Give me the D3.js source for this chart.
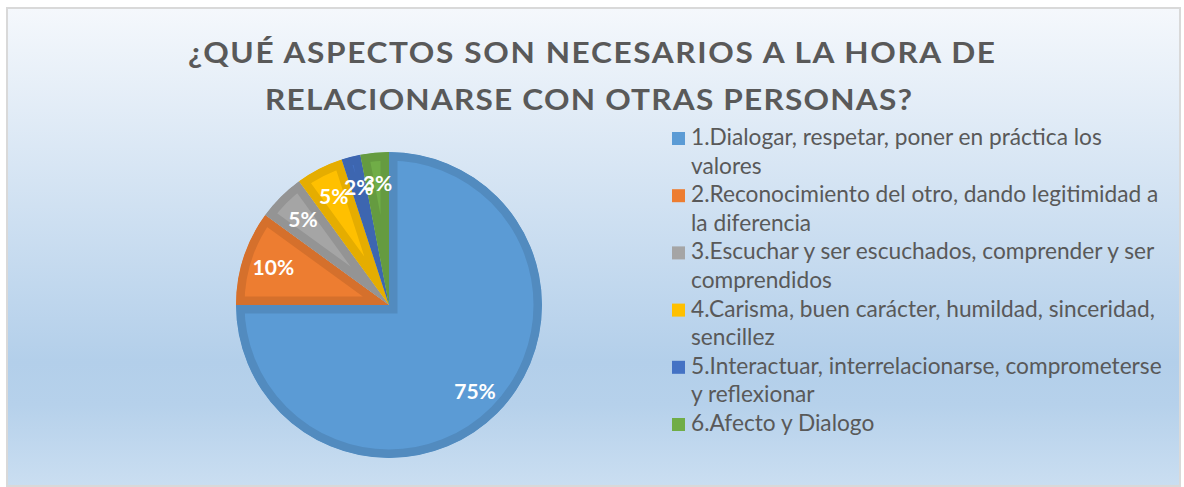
<!DOCTYPE html>
<html>
<head>
<meta charset="utf-8">
<script src="https://cdn.jsdelivr.net/npm/d3@7"></script>
<style>
    html, body { margin: 0; padding: 0; background: #ffffff; }
    svg { display: block; }
</style>
</head>
<body>
<svg id="chart" width="1184" height="487"></svg>
<script>
var title_lines = ["¿QUÉ ASPECTOS SON NECESARIOS A LA HORA DE", "RELACIONARSE CON OTRAS PERSONAS?"];
var categories = [
    "1.Dialogar, respetar, poner en práctica los valores",
    "2.Reconocimiento del otro, dando legitimidad a la diferencia",
    "3.Escuchar y ser escuchados, comprender y ser comprendidos",
    "4.Carisma, buen carácter, humildad, sinceridad, sencillez",
    "5.Interactuar, interrelacionarse, comprometerse y reflexionar",
    "6.Afecto y Dialogo"
];
// legend text as wrapped in the picture
var legend_lines = [
    ["1.Dialogar, respetar, poner en práctica los", "valores"],
    ["2.Reconocimiento del otro, dando legitimidad a", "la diferencia"],
    ["3.Escuchar y ser escuchados, comprender y ser", "comprendidos"],
    ["4.Carisma, buen carácter, humildad, sinceridad,", "sencillez"],
    ["5.Interactuar, interrelacionarse, comprometerse", "y reflexionar"],
    ["6.Afecto y Dialogo"]
];
var values = [75, 10, 5, 5, 2, 3];
var colors = ["#5b9bd5", "#ed7d31", "#a5a5a5", "#ffc000", "#4472c4", "#70ad47"];

var svg = d3.select("#chart");
var font = "Lato, 'Open Sans', sans-serif";
var text_color = "#595959";

// background gradient of the chart area
var defs = svg.append("defs");
var grad = defs.append("linearGradient")
    .attr("id", "bg_grad")
    .attr("x1", 0).attr("y1", 0)
    .attr("x2", 0).attr("y2", 1);
grad.append("stop").attr("offset", "0%").attr("stop-color", "#f5f8fc");
grad.append("stop").attr("offset", "74%").attr("stop-color", "#b3cfea");
grad.append("stop").attr("offset", "83%").attr("stop-color", "#b6d1eb");
grad.append("stop").attr("offset", "100%").attr("stop-color", "#cadef1");

svg.append("rect")
    .attr("x", 7)
    .attr("y", 8)
    .attr("width", 1173)
    .attr("height", 478)
    .attr("fill", "url(#bg_grad)")
    .attr("stroke", "#d9d9d9")
    .attr("stroke-width", 2);

// title: glyphs widened a bit (Calibri bold is broader than Lato), spacing fills the rest
var title_pos = [{x: 188, y: 63, w: 807}, {x: 265, y: 110, w: 647}];
var title_g = svg.append("g").attr("id", "title");
var tprobe = title_g.append("text")
    .attr("font-family", font)
    .attr("font-weight", "bold")
    .attr("font-size", 28)
    .text(title_lines[0]);
var sx = (807 - title_lines[0].length * 1.6) / tprobe.node().getComputedTextLength();
tprobe.remove();

title_g.selectAll("text")
    .data(title_lines)
    .enter()
    .append("text")
    .attr("transform", function (d, i) {
        return "translate(" + title_pos[i].x + "," + title_pos[i].y + ") scale(" + sx + ",1)";
    })
    .attr("textLength", function (d, i) { return title_pos[i].w / sx; })
    .attr("lengthAdjust", "spacing")
    .attr("font-family", font)
    .attr("font-weight", "bold")
    .attr("font-size", 28)
    .attr("fill", text_color)
    .text(function (d) { return d; });

// pie
var cx = 389, cy = 305, R = 153;
var total = d3.sum(values);
var pie = d3.pie().sort(null).value(function (d) { return d; });
var arcs = pie(values);
var arc = d3.arc().innerRadius(0).outerRadius(R);
var label_arc = d3.arc().innerRadius(R * 0.795).outerRadius(R * 0.795);
var fmt = d3.format(".0%");

var pie_g = svg.append("g")
    .attr("id", "pie")
    .attr("transform", "translate(" + cx + "," + cy + ")");

pie_g.selectAll("clipPath")
    .data(arcs)
    .enter()
    .append("clipPath")
    .attr("id", function (d, i) { return "clip_" + i; })
    .append("path")
    .attr("d", arc);

// slices with a darker inner band (stroke clipped to the slice)
pie_g.selectAll("path.slice")
    .data(arcs)
    .enter()
    .append("path")
    .attr("class", "slice")
    .attr("d", arc)
    .attr("fill", function (d, i) { return colors[i]; })
    .attr("stroke", function (d, i) { return d3.color(colors[i]).darker(0.3).formatHex(); })
    .attr("stroke-width", 17)
    .attr("stroke-linejoin", "miter")
    .attr("clip-path", function (d, i) { return "url(#clip_" + i + ")"; });

pie_g.selectAll("text")
    .data(arcs)
    .enter()
    .append("text")
    .attr("x", function (d) { return label_arc.centroid(d)[0]; })
    .attr("y", function (d) { return label_arc.centroid(d)[1]; })
    .attr("text-anchor", "middle")
    .attr("dy", "0.36em")
    .attr("font-family", font)
    .attr("font-weight", "bold")
    .attr("font-size", 21)
    .attr("fill", "#ffffff")
    .text(function (d) { return fmt(d.value / total); });

// legend
var leg_x = 672, text_x = 691, first_base = 145, step = 28.6, box = 13;
var legend = svg.append("g").attr("id", "legend");

// fit font size so the longest line matches the picture width (691 -> 1162)
var probe = legend.append("text")
    .attr("font-family", font)
    .attr("font-size", 20)
    .text(legend_lines[4][0]);
var leg_size = 20 * 471 / probe.node().getComputedTextLength();
probe.remove();

var line_no = 0;
for (var i = 0; i < categories.length; i++) {
    var base = first_base + line_no * step;
    legend.append("rect")
        .attr("x", leg_x)
        .attr("y", base - 13)
        .attr("width", box)
        .attr("height", box)
        .attr("fill", colors[i]);
    for (var j = 0; j < legend_lines[i].length; j++) {
        legend.append("text")
            .attr("x", text_x)
            .attr("y", first_base + line_no * step)
            .attr("font-family", font)
            .attr("font-size", leg_size)
            .attr("fill", text_color)
            .text(legend_lines[i][j]);
        line_no++;
    }
}
</script>
</body>
</html>
